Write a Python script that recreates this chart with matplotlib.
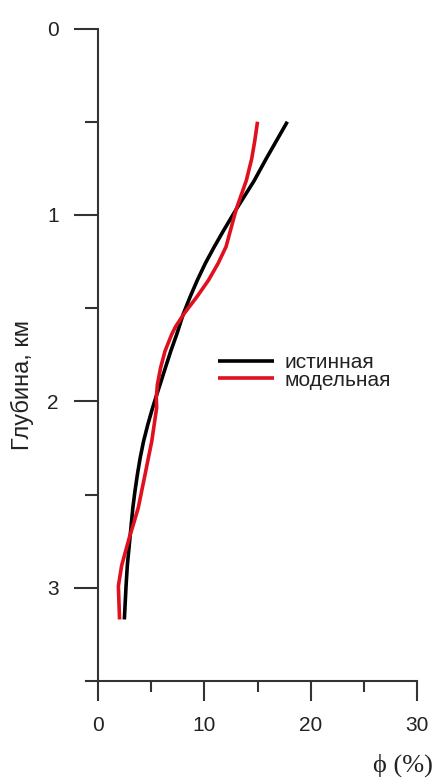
import matplotlib
matplotlib.use("Agg")
import matplotlib.pyplot as plt
from matplotlib.ticker import FixedLocator

# Data: depth (km) vs porosity phi (%)
true_depth = [0.5, 0.6, 0.7, 0.815, 0.97, 1.085, 1.17, 1.26, 1.35, 1.44, 1.53,
              1.64, 1.73, 1.82, 1.91, 1.98, 2.035, 2.125, 2.215, 2.305, 2.394,
              2.48, 2.57, 2.73, 2.88, 2.99, 3.17]
true_phi = [17.8, 16.8, 15.8, 14.7, 13.0, 11.8, 10.95, 10.1, 9.35, 8.67, 8.04,
            7.42, 6.86, 6.35, 5.85, 5.45, 5.15, 4.7, 4.3, 3.98, 3.72,
            3.5, 3.3, 3.03, 2.78, 2.66, 2.5]

model_depth = [0.5, 0.6, 0.7, 0.815, 0.97, 1.085, 1.17, 1.26, 1.35, 1.44, 1.53,
               1.6, 1.64, 1.73, 1.82, 1.91, 1.98, 2.035, 2.125, 2.215, 2.305,
               2.394, 2.48, 2.57, 2.65, 2.73, 2.88, 2.99, 3.17]
model_phi = [15.0, 14.75, 14.45, 13.95, 13.0, 12.45, 12.05, 11.3, 10.4, 9.3, 8.1,
             7.3, 6.95, 6.32, 5.9, 5.6, 5.5, 5.53, 5.3, 5.07, 4.75,
             4.44, 4.13, 3.81, 3.4, 2.97, 2.25, 1.94, 2.05]

series_labels = ["истинная", "модельная"]
x_ticks = [0, 10, 20, 30]
y_ticks = [0, 1, 2, 3]

plt.rcParams['font.family'] = ['Liberation Sans', 'DejaVu Sans']
W, H = 435, 780
fig = plt.figure(figsize=(W / 100, H / 100), dpi=100)

ax_left_px, ax_right_px = 86, 417.3
ax_top_px, ax_bot_px = 28.5, 681
ax = fig.add_axes([ax_left_px / W, 1 - ax_bot_px / H,
                   (ax_right_px - ax_left_px) / W, (ax_bot_px - ax_top_px) / H])
ax.set_xlim(-1.1, 30)
ax.set_ylim(3.5, 0)

axis_color = '#333333'
ax.plot(true_phi, true_depth, color='#000000', lw=2.6, solid_capstyle='butt',
        solid_joinstyle='round', label=series_labels[0])
ax.plot(model_phi, model_depth, color='#e0101e', lw=2.6, solid_capstyle='butt',
        solid_joinstyle='round', label=series_labels[1])

for s in ['top', 'right']:
    ax.spines[s].set_visible(False)
ax.spines['left'].set_position(('data', 0))
ax.spines['left'].set_bounds(0, 3.5)
ax.spines['bottom'].set_bounds(-1.1, 30)
for s in ['left', 'bottom']:
    ax.spines[s].set_color(axis_color)
    ax.spines[s].set_linewidth(1.5)

ax.xaxis.set_major_locator(FixedLocator(x_ticks))
ax.xaxis.set_minor_locator(FixedLocator([5, 15, 25]))
ax.yaxis.set_major_locator(FixedLocator(y_ticks))
ax.yaxis.set_minor_locator(FixedLocator([0.5, 1.5, 2.5]))
ax.set_xticklabels([str(v) for v in x_ticks])
ax.set_yticklabels([str(v) for v in y_ticks])

ax.tick_params(axis='x', which='major', direction='out', length=14.4, width=1.5,
               color=axis_color, labelsize=15, labelcolor='#222222', pad=11)
ax.tick_params(axis='x', which='minor', direction='out', length=8, width=1.5,
               color=axis_color)
ax.tick_params(axis='y', which='major', direction='out', length=17, width=1.5,
               color=axis_color, labelsize=15, labelcolor='#222222', pad=11)
ax.tick_params(axis='y', which='minor', direction='out', length=9.4, width=1.5,
               color=axis_color)

fig.text(22 / W, 1 - 385 / H, "Глубина, км", rotation=90, ha='center',
         va='center', fontsize=17, color='#222222')
fig.text(403 / W, 1 - 765 / H, "ϕ (%)", ha='center', va='center', fontsize=19,
         color='#222222', family=['Liberation Serif', 'DejaVu Serif'])

leg = ax.legend(loc='upper left', bbox_to_anchor=(0.398, 0.503), frameon=False,
                fontsize=15, handlelength=2.7, handletextpad=0.5,
                borderpad=0, borderaxespad=0, labelspacing=-0.05)
for t in leg.get_texts():
    t.set_color('#222222')

fig.savefig("out.png", dpi=100)
